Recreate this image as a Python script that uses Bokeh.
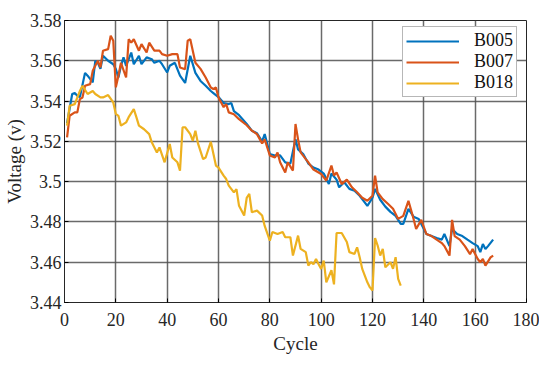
from bokeh.plotting import figure
from bokeh.models import Range1d, Legend, LegendItem, FixedTicker
from bokeh.embed import file_html
from bokeh.resources import INLINE

# ---- data ----
b005_cycle = [1, 3, 4, 5, 6, 8, 9, 11, 12, 13, 14, 15, 17, 19, 20, 21, 22, 23, 24, 26, 27, 29, 30, 32, 34, 35, 37, 38, 40, 41, 43, 45, 47, 49, 51, 53, 55, 57, 58, 60, 62, 64, 65, 66, 68, 71, 73, 75, 77, 78, 80, 82, 84, 86, 88, 90, 91, 93, 95, 97, 99, 101, 103, 104, 106, 107, 109, 111, 113, 115, 118, 120, 121, 123, 125, 127, 129, 131, 132, 134, 136, 138, 139, 141, 143, 145, 147, 148, 150, 151, 153, 155, 157, 159, 161, 162, 163, 164, 165, 167]
b005_volt = [3.529, 3.5435, 3.544, 3.5426, 3.542, 3.554, 3.5526, 3.5493, 3.560, 3.559, 3.556, 3.5625, 3.560, 3.5583, 3.5559, 3.5517, 3.5575, 3.5617, 3.5575, 3.5641, 3.5583, 3.5625, 3.5583, 3.5617, 3.5608, 3.559, 3.560, 3.5583, 3.5542, 3.5575, 3.559, 3.5526, 3.549, 3.5625, 3.554, 3.550, 3.5476, 3.545, 3.544, 3.542, 3.539, 3.5385, 3.539, 3.535, 3.533, 3.5286, 3.5253, 3.524, 3.520, 3.5236, 3.5137, 3.513, 3.513, 3.5096, 3.509, 3.521, 3.516, 3.5137, 3.509, 3.507, 3.506, 3.504, 3.4988, 3.504, 3.501, 3.4972, 3.4997, 3.4964, 3.4955, 3.493, 3.488, 3.492, 3.4964, 3.491, 3.4876, 3.485, 3.483, 3.479, 3.479, 3.4865, 3.4826, 3.4815, 3.479, 3.474, 3.473, 3.472, 3.4712, 3.474, 3.468, 3.4765, 3.474, 3.473, 3.4712, 3.4695, 3.468, 3.465, 3.469, 3.4665, 3.468, 3.4712]

b007_cycle = [1, 2, 4, 5, 6, 7, 8, 10, 11, 13, 14, 15, 17, 18, 19, 20, 21, 22, 24, 25, 26, 27, 29, 30, 32, 33, 35, 37, 38, 40, 42, 44, 45, 47, 48, 49, 51, 53, 55, 57, 58, 59, 60, 62, 63, 64, 66, 68, 71, 73, 75, 77, 78, 80, 82, 83, 84, 86, 87, 89, 90, 91, 92, 94, 95, 97, 100, 102, 104, 105, 106, 108, 110, 112, 114, 116, 118, 120, 121, 122, 124, 126, 128, 130, 132, 134, 136, 137, 139, 141, 143, 145, 147, 148, 150, 151, 152, 154, 156, 158, 159, 161, 162, 163, 164, 166, 167]
b007_volt = [3.522, 3.5327, 3.5344, 3.5344, 3.541, 3.5418, 3.5476, 3.5484, 3.555, 3.560, 3.5567, 3.565, 3.5658, 3.5724, 3.570, 3.5468, 3.5526, 3.559, 3.5517, 3.5707, 3.569, 3.5707, 3.565, 3.5683, 3.5641, 3.569, 3.565, 3.565, 3.5633, 3.5625, 3.5633, 3.5633, 3.5567, 3.5558, 3.570, 3.5707, 3.559, 3.556, 3.5517, 3.5467, 3.546, 3.5467, 3.5418, 3.537, 3.5385, 3.5344, 3.5335, 3.531, 3.528, 3.5253, 3.5236, 3.519, 3.521, 3.513, 3.512, 3.5145, 3.5096, 3.5046, 3.5096, 3.5055, 3.5286, 3.521, 3.5145, 3.5112, 3.5096, 3.506, 3.5038, 3.5005, 3.508, 3.503, 3.5046, 3.4988, 3.501, 3.4972, 3.4947, 3.492, 3.4905, 3.493, 3.503, 3.4947, 3.4913, 3.489, 3.4865, 3.4815, 3.483, 3.4905, 3.4815, 3.4765, 3.481, 3.474, 3.473, 3.4712, 3.4695, 3.468, 3.4633, 3.481, 3.473, 3.4712, 3.468, 3.464, 3.4665, 3.4616, 3.460, 3.4616, 3.4583, 3.4624, 3.4633]

b018_cycle = [1, 2, 4, 6, 7, 9, 11, 12, 14, 15, 17, 19, 20, 21, 22, 24, 25, 27, 28, 29, 31, 33, 34, 36, 37, 39, 41, 42, 44, 45, 46, 47, 49, 50, 51, 52, 54, 55, 57, 59, 60, 62, 63, 64, 66, 67, 68, 70, 71, 72, 73, 75, 77, 78, 80, 81, 83, 85, 86, 88, 89, 91, 92, 94, 95, 96, 97, 98, 99, 100, 101, 102, 104, 105, 106, 108, 110, 111, 113, 114, 115, 116, 118, 119, 120, 121, 122, 123, 124, 125, 127, 128, 129, 130, 131]
b018_volt = [3.5278, 3.5377, 3.5385, 3.545, 3.5476, 3.5435, 3.545, 3.5435, 3.5418, 3.5418, 3.543, 3.5393, 3.5336, 3.5327, 3.5278, 3.5294, 3.532, 3.536, 3.532, 3.5278, 3.526, 3.5236, 3.5195, 3.5145, 3.517, 3.5096, 3.5187, 3.512, 3.5096, 3.5055, 3.527, 3.527, 3.5236, 3.5203, 3.5253, 3.519, 3.5112, 3.512, 3.5198, 3.508, 3.507, 3.503, 3.5013, 3.498, 3.4947, 3.4963, 3.488, 3.4832, 3.492, 3.4939, 3.4848, 3.4856, 3.4832, 3.478, 3.4707, 3.475, 3.474, 3.475, 3.4724, 3.4724, 3.4633, 3.4732, 3.4666, 3.465, 3.4583, 3.460, 3.459, 3.4616, 3.459, 3.4567, 3.4608, 3.450, 3.456, 3.449, 3.4745, 3.4745, 3.470, 3.465, 3.4641, 3.4674, 3.4625, 3.4567, 3.450, 3.4475, 3.446, 3.472, 3.4683, 3.4633, 3.4666, 3.4575, 3.460, 3.4567, 3.4625, 3.4517, 3.4484]

x_ticks = [0, 20, 40, 60, 80, 100, 120, 140, 160, 180]
y_ticks = [3.44, 3.46, 3.48, 3.50, 3.52, 3.54, 3.56, 3.58]
y_tick_labels = {3.44: "3.44", 3.46: "3.46", 3.48: "3.48", 3.50: "3.5",
                 3.52: "3.52", 3.54: "3.54", 3.56: "3.56", 3.58: "3.58"}

FONT = "Liberation Serif"

p = figure(width=534, height=353, output_backend="svg", toolbar_location=None,
           x_range=Range1d(0, 180), y_range=Range1d(3.44, 3.58),
           min_border_left=59, min_border_top=20, min_border_right=13, min_border_bottom=51)
p.frame_width = 462
p.frame_height = 282

r1 = p.line(b005_cycle, b005_volt, line_color="#0072BD", line_width=2.2)
r2 = p.line(b007_cycle, b007_volt, line_color="#D95319", line_width=2.2)
r3 = p.line(b018_cycle, b018_volt, line_color="#EDB120", line_width=2.2)

p.xaxis.ticker = FixedTicker(ticks=x_ticks)
p.yaxis.ticker = FixedTicker(ticks=y_ticks)
p.yaxis.major_label_overrides = y_tick_labels
for ax in (p.xaxis[0], p.yaxis[0]):
    ax.major_label_text_font = FONT
    ax.major_label_text_font_size = "18px"
    ax.major_label_text_color = "#262626"
    ax.axis_label_text_font = FONT
    ax.axis_label_text_font_style = "normal"
    ax.axis_label_text_color = "#262626"
    ax.major_tick_in = 4
    ax.major_tick_out = 0
    ax.minor_tick_line_color = None
    ax.axis_line_color = "#262626"
p.xaxis.axis_label = "Cycle"
p.yaxis.axis_label = "Voltage (v)"
p.xaxis.axis_label_text_font_size = "19px"
p.yaxis.axis_label_text_font_size = "19px"
p.xaxis.major_label_standoff = 10
p.yaxis.major_label_standoff = 3
p.xaxis.axis_label_standoff = 4
p.yaxis.axis_label_standoff = 2

p.xgrid.grid_line_color = "#505050"
p.ygrid.grid_line_color = "#505050"
p.xgrid.grid_line_width = 1.5
p.ygrid.grid_line_width = 1.5
p.xgrid.grid_line_alpha = 0.85
p.ygrid.grid_line_alpha = 0.85

p.outline_line_color = "#262626"
p.outline_line_width = 1

legend = Legend(items=[LegendItem(label="B005", renderers=[r1]),
                       LegendItem(label="B007", renderers=[r2]),
                       LegendItem(label="B018", renderers=[r3])],
                location=(338, 205))
legend.label_text_font = FONT
legend.label_text_font_size = "18px"
legend.label_text_line_height = 1.0
legend.label_text_color = "#111111"
legend.glyph_width = 53
legend.glyph_height = 18
legend.label_height = 18
legend.label_standoff = 15
legend.spacing = 0
legend.padding = 3
legend.margin = 0
legend.border_line_color = "#707070"
legend.border_line_width = 1
legend.background_fill_color = "white"
legend.background_fill_alpha = 1
p.add_layout(legend, "center")

open("out.html", "w").write(file_html(p, INLINE))
